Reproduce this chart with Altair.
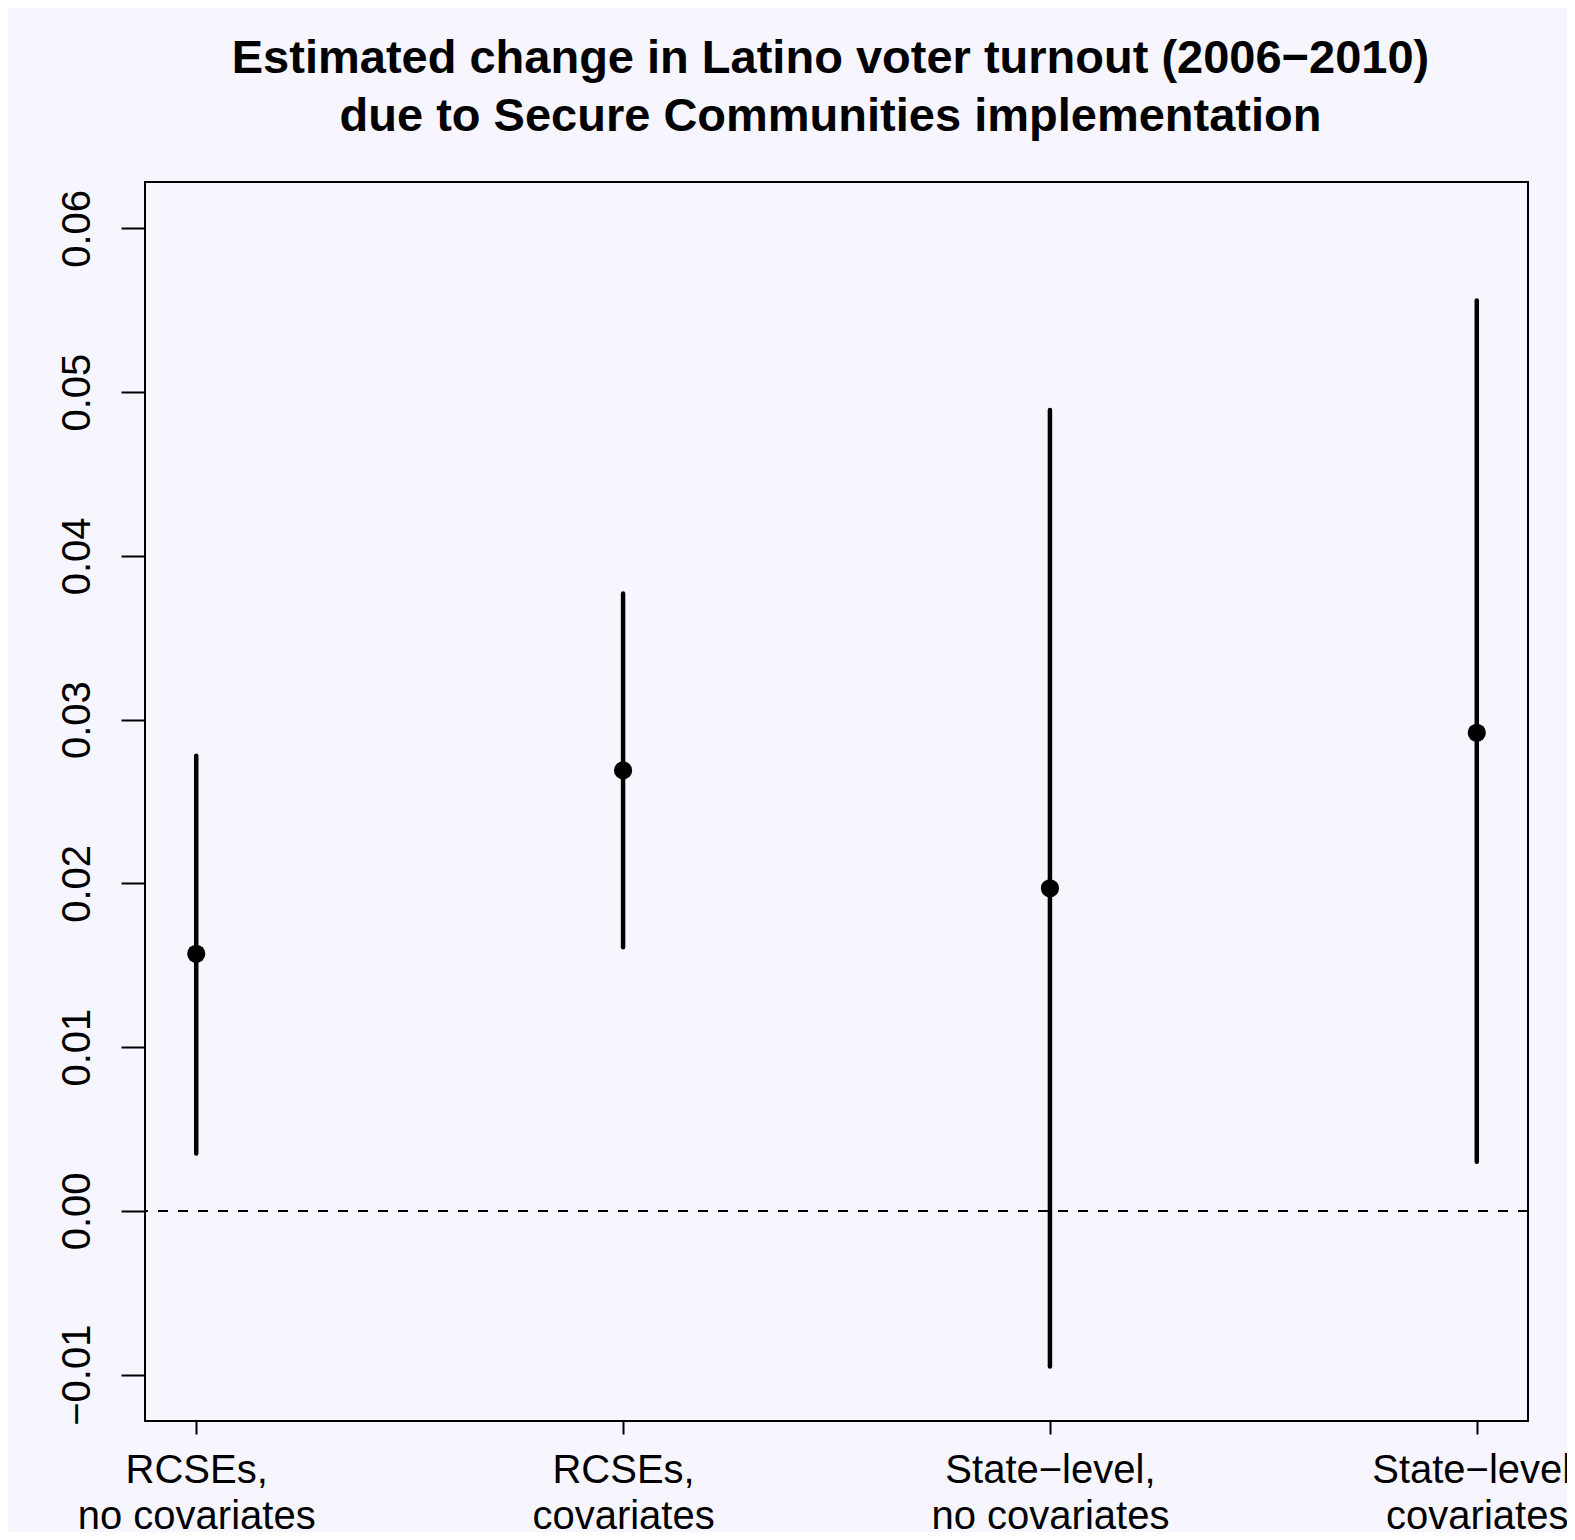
import json
import altair as alt
import pandas as pd

# ---- data ----
categories = ["RCSEs, no covariates", "RCSEs, covariates",
              "State\u2212level, no covariates", "State\u2212level, covariates"]
tick_lines = [["RCSEs,", "no covariates"], ["RCSEs,", "covariates"],
              ["State\u2212level,", "no covariates"], ["State\u2212level,", "covariates"]]
positions = [1, 2, 3, 4]
estimates = [0.0157, 0.0269, 0.0197, 0.0292]
lower = [0.0035, 0.0161, -0.0095, 0.0030]
upper = [0.0278, 0.0377, 0.0489, 0.0556]
y_ticks = [-0.01, 0.0, 0.01, 0.02, 0.03, 0.04, 0.05, 0.06]
title_lines = ["Estimated change in Latino voter turnout (2006\u22122010)",
               "due to Secure Communities implementation"]

df = pd.DataFrame({"cat": categories, "pos": positions, "est": estimates,
                   "lower": lower, "upper": upper})

FONT = "Liberation Sans"

x_enc = alt.X(
    "pos:Q",
    scale=alt.Scale(domain=[0.88, 4.12], nice=False, zero=False),
    axis=alt.Axis(
        values=positions, title=None, grid=False, domain=False,
        labelExpr=json.dumps(tick_lines) + "[datum.value - 1]",
        tickSize=13, tickWidth=2, tickColor="black",
        labelFont=FONT, labelFontSize=40, labelColor="black",
        labelPadding=16, labelBaseline="top", labelLineHeight=46,
        labelLimit=2000,
        labelFlush=False, labelOverlap=False, labelBound=False,
    ),
)
y_scale = alt.Scale(domain=[-0.01283, 0.06283], nice=False, zero=False)
y_axis = alt.Axis(
    values=y_ticks, format=".2f", title=None, grid=False, domain=False,
    tickSize=24, tickWidth=2, tickColor="black",
    labelFont=FONT, labelFontSize=40, labelColor="black",
    labelAngle=270, labelAlign="center", labelBaseline="alphabetic",
    labelPadding=32, labelLimit=2000,
    labelFlush=False, labelOverlap=False, labelBound=False,
)

base = alt.Chart(df)

zero_line = base.mark_rule(color="black", strokeWidth=2, strokeDash=[10, 10]).encode(
    y=alt.datum(0, scale=y_scale, axis=y_axis)
)
bars = base.mark_rule(color="black", strokeWidth=4.5, strokeCap="round").encode(
    x=x_enc,
    y=alt.Y("lower:Q", scale=y_scale, axis=y_axis),
    y2="upper:Q",
)
points = base.mark_circle(color="black", opacity=1, size=330).encode(
    x=x_enc,
    y=alt.Y("est:Q", scale=y_scale, axis=y_axis),
)

chart = alt.layer(zero_line, bars, points).properties(
    width=1383,
    height=1239,
    autosize=alt.AutoSizeParams(type="none"),
    padding={"left": 137, "top": 174, "right": 39, "bottom": 111},
    title=alt.TitleParams(
        text=title_lines, font=FONT, fontSize=47, fontWeight="bold",
        lineHeight=58, offset=41, anchor="middle", dx=-6, color="black",
    ),
).configure(
    background="#F7F6FE",
).configure_view(
    stroke="black", strokeWidth=2, fill="#F7F6FE",
)

chart.save("out.html", embed_options={"renderer": "svg", "actions": False})
